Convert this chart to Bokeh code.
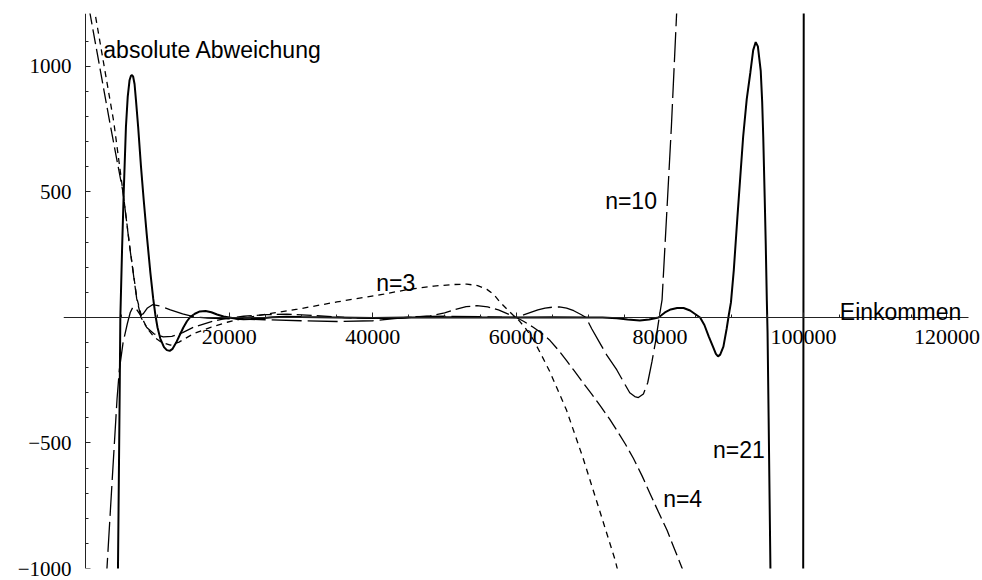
from bokeh.plotting import figure
from bokeh.models import Range1d, LinearAxis, FixedTicker, Label
from bokeh.embed import file_html
from bokeh.resources import INLINE

# ---------------- data ----------------
# n = 3 interpolation, absolute deviation
n3_x = [600, 1340, 3900, 5200, 6100, 7100, 7800, 8600, 9600, 10600, 11800, 13000,
        15000, 17500, 19700, 22500, 26000, 29500, 35000, 41500, 45000, 48500,
        51000, 53100, 54600, 55900, 56900, 57700, 58700, 59600, 60000, 61200,
        62300, 63500, 64700, 67000, 69300, 71500, 73750, 74500, 76000]
n3_y = [1327, 1204, 780, 498, 290, 80, 0, -45, -80, -100, -110, -98,
        -65, -38, -19, 0, 17, 33, 62, 93, 112, 125,
        131, 133, 127, 112, 90, 62, 33, 8, 0, -40,
        -85, -150, -218, -370, -561, -760, -965, -1050, -1200]

# n = 4
n4_x = [0, 640, 3330, 5200, 6100, 7100, 7700, 8500, 9500, 10800, 12000, 13500,
        15000, 17800, 19700, 22000, 25000, 28000, 32000, 36000, 40000, 44000,
        48000, 50000, 51500, 53000, 54500, 56000, 57500, 59000, 60000, 61000,
        62300, 63500, 64700, 66000, 67000, 68000, 69300, 70500, 71700, 73000,
        74000, 75200, 76300, 77500, 78600, 79800, 81000, 82000, 83000, 84000]
n4_y = [1305, 1204, 780, 498, 286, 75, 0, -40, -65, -77, -75, -60,
        -39, -14, -3, 5, 11, 13, 8, 0, -4, -2,
        6, 18, 32, 43, 47, 42, 30, 12, 0, -15,
        -38, -62, -92, -135, -172, -210, -260, -305, -352, -405,
        -450, -505, -561, -630, -700, -775, -848, -920, -992, -1065]

# n = 10
n10_x = [2500, 2970, 3700, 4360, 4680, 5200, 5800, 6200, 6600, 7000, 7600, 8000,
         8600, 9300, 10300, 11800, 13500, 15000, 17000, 20000, 25000, 30000,
         35000, 40000, 43000, 46000, 50000, 55000, 58000, 60000, 61000, 62000,
         63000, 64000, 65000, 66000, 67000, 68000, 69000, 69700, 70500, 71700,
         72600, 74000, 75000, 75800, 76500, 77000, 77700, 78300, 78900, 79400,
         79900, 80300, 81000, 81600, 82300, 82800]
n10_y = [-1220, -992, -640, -325, -209, -100, -24, 20, 43, 36, 10, 14,
         38, 51, 46, 30, 14, 3, -2, -5, -9, -13,
         -16, -13, -4, 3, 5, 3, 1, 0, 10, 20,
         30, 37, 41, 42, 37, 27, 12, 0, -45, -105,
         -150, -209, -260, -300, -315, -319, -305, -260, -175, -95,
         0, 70, 440, 760, 1193, 1500]

# n = 21
n21_x = [3000, 4300, 4490, 4720, 4820, 5050, 5290, 5600, 5850, 6100, 6300, 6450,
         6600, 6800, 7000, 7300, 7700, 8070, 8500, 9000, 9400, 9700, 10000,
         10400, 10900, 11300, 11700, 12100, 12600, 13100, 13600, 14100, 14600,
         15200, 15900, 16700, 17500, 18300, 19200, 20000, 21000, 22000, 23000,
         24500, 26000, 28000, 30000, 35000, 40000, 45000, 50000, 55000, 60000,
         65000, 70000, 72000, 74000, 75500, 77200, 78500, 79800, 80700, 81500,
         82400, 83300, 84200, 85000, 85600, 86200, 86800, 87450, 87800, 88100,
         88400, 88850, 89300, 89600, 89900, 90300, 90800, 91200, 91600, 92100,
         92600, 93000, 93350, 93650, 94050, 94250, 94400, 94600, 94750, 94900,
         95000, 95150, 95400, 95600, 96000, 98000, 99900, 100000, 100100, 102000]
n21_y = [-8000, -1600, -1000, -325, 0, 260, 497, 760, 880, 945, 963, 966,
         960, 930, 865, 760, 600, 470, 330, 180, 75, 10, -40,
         -85, -118, -130, -133, -125, -100, -70, -40, -15, 3,
         15, 24, 26, 21, 12, 4, 0, -5, -7, -6,
         -3, 1, 3, 2, 0, -2, 0, 1, 0, 0,
         1, 0, 0, -3, -8, -12, -8, 0, 20, 32,
         38, 38, 28, 12, 0, -30, -75, -120, -145, -155,
         -148, -116, -45, 10, 60, 190, 400, 560, 720, 870,
         975, 1065, 1097, 1080, 982, 860, 720, 480, 290, 67,
         -60, -400, -1000, -1600, -5000, -9000, -3000, 0, 3000, 9000]

# axes
x_major = [20000, 40000, 60000, 80000, 100000, 120000]
x_major_labels = ["20000", "40000", "60000", "80000", "100000", "120000"]
x_minor = [5000, 10000, 15000, 25000, 30000, 35000, 45000, 50000, 55000,
           65000, 70000, 75000, 85000, 90000, 95000, 105000, 110000, 115000]
y_major = [-1000, -500, 500, 1000]
y_major_labels = ["\u22121000", "\u2212500", "500", "1000"]
y_minor = [-900, -800, -700, -600, -400, -300, -200, -100, 100, 200, 300, 400,
           600, 700, 800, 900, 1100]

# curve labels
label_texts = ["absolute Abweichung", "Einkommen", "n=10", "n=3", "n=21", "n=4"]

# ---------------- figure ----------------
X_START, X_AXIS_END, X_END = -3100, 123000, 124950
p = figure(width=982, height=580,
           x_range=Range1d(X_START, X_END), y_range=Range1d(-1000, 1211),
           x_axis_type=None, y_axis_type=None,
           output_backend="svg", toolbar_location=None,
           min_border_left=63, min_border_right=0,
           min_border_top=13, min_border_bottom=12)
p.outline_line_color = None
p.background_fill_color = "white"
p.border_fill_color = "white"

AX = "#222222"
FONT_SERIF = "Liberation Serif"

# x axis crossing at y = 0
xaxis = LinearAxis(fixed_location=0, bounds=(X_START, X_AXIS_END),
                   ticker=FixedTicker(ticks=x_major, minor_ticks=x_minor),
                   major_label_overrides=dict(zip(x_major, x_major_labels)),
                   axis_line_color=AX, axis_line_width=1,
                   major_tick_in=5, major_tick_out=0,
                   minor_tick_in=3, minor_tick_out=0,
                   major_tick_line_color=AX, minor_tick_line_color=AX,
                   major_label_standoff=13,
                   major_label_text_font=FONT_SERIF,
                   major_label_text_font_size="22px",
                   major_label_text_color="black")
p.add_layout(xaxis, "below")

# y axis line and ticks at x = 0
yaxis = LinearAxis(fixed_location=0,
                   ticker=FixedTicker(ticks=y_major, minor_ticks=y_minor),
                   axis_line_color=AX, axis_line_width=1,
                   major_tick_in=5, major_tick_out=0,
                   minor_tick_in=3, minor_tick_out=0,
                   major_tick_line_color=AX, minor_tick_line_color=AX,
                   major_label_text_color=None)
p.add_layout(yaxis, "left")

# y tick labels (drawn by a bare axis in the left panel)
ylabels = LinearAxis(ticker=FixedTicker(ticks=y_major, minor_ticks=[]),
                     major_label_overrides=dict(zip(y_major, y_major_labels)),
                     axis_line_color=None, major_tick_line_color=None,
                     minor_tick_line_color=None,
                     major_tick_in=0, major_tick_out=0,
                     major_label_standoff=-8,
                     major_label_text_font=FONT_SERIF,
                     major_label_text_font_size="21px",
                     major_label_text_color="black")
p.add_layout(ylabels, "left")

# ---------------- curves ----------------
p.line(n3_x, n3_y, line_color="black", line_width=1.3, line_dash="6 5")
p.line(n4_x, n4_y, line_color="black", line_width=1.3, line_dash="15 5")
p.line(n10_x, n10_y, line_color="black", line_width=1.3, line_dash="30 6")
p.line(n21_x, n21_y, line_color="black", line_width=2)

# ---------------- text labels ----------------
label_pos = [(2450, 1067), (105070, 21), (72370, 465), (40470, 138),
             (87400, -528), (80450, -724)]
for t, (lx, ly) in zip(label_texts, label_pos):
    p.add_layout(Label(x=lx, y=ly, text=t, text_font="Liberation Sans",
                       text_font_size="23px", text_color="black",
                       text_align="left", text_baseline="alphabetic"))

open("out.html", "w").write(file_html(p, INLINE))
